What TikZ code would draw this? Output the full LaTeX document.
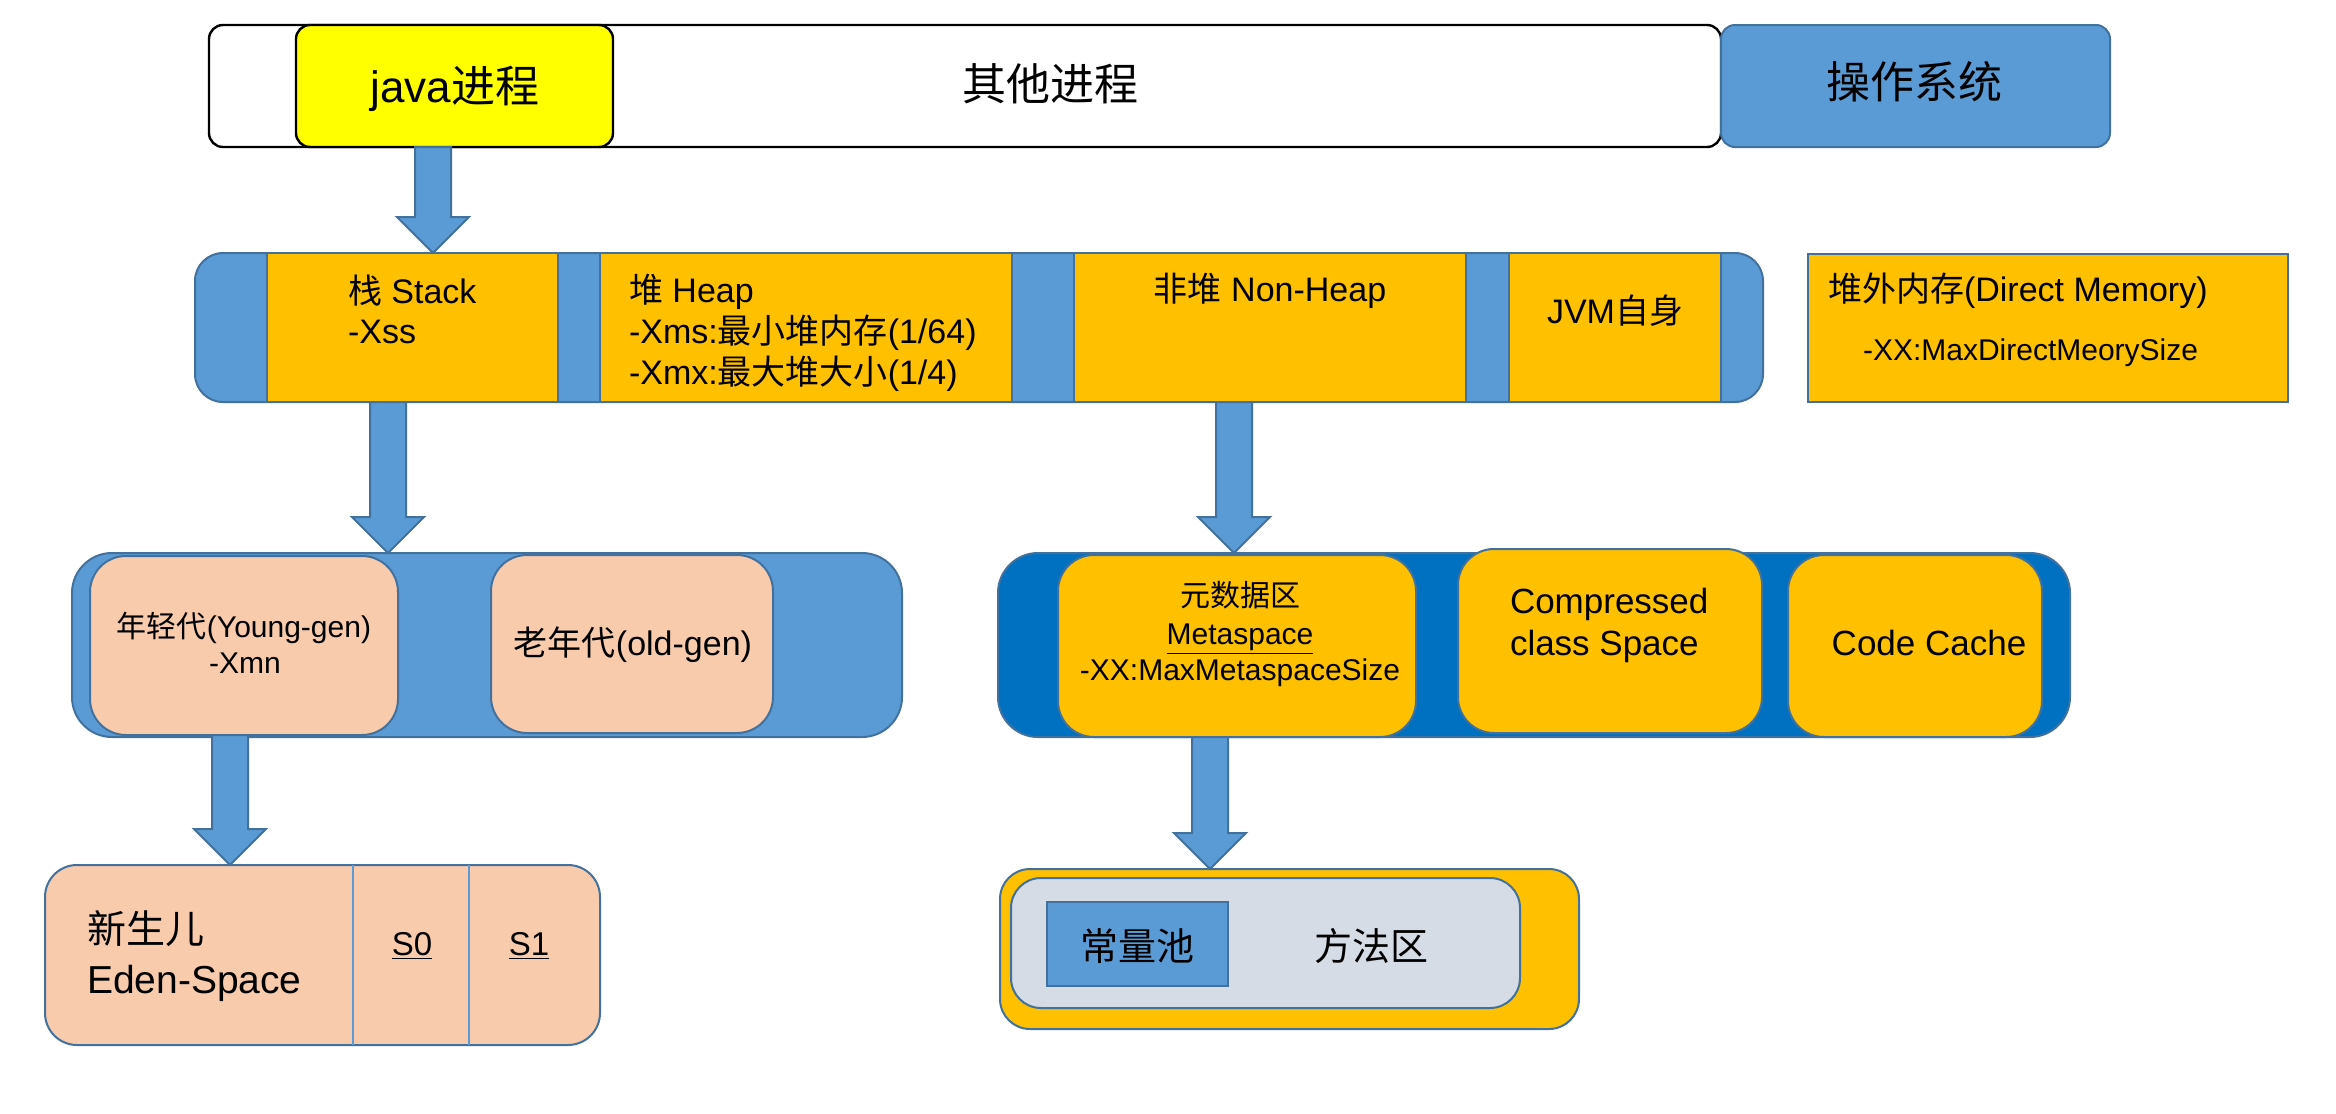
\documentclass[tikz,border=0pt]{standalone}
\usepackage{fontspec}
\setmainfont{Liberation Sans}
\newfontfamily\cjk{Noto Sans CJK SC}
\usetikzlibrary{calc}
\definecolor{bfill}{HTML}{5B9BD5}
\definecolor{bline}{HTML}{41719C}
\definecolor{orng}{HTML}{FFC000}
\definecolor{peach}{HTML}{F8CBAD}
\definecolor{dblue}{HTML}{0070C0}
\definecolor{lgray}{HTML}{D6DCE5}
\definecolor{yel}{HTML}{FFFF00}
\tikzset{
  bx/.style={inner sep=0pt, outer sep=0pt, anchor=north west},
  blackbox/.style={bx, draw=black, line width=1.2pt},
  bluebox/.style={bx, draw=bline, line width=1pt},
  barrow/.style={fill=bfill, draw=bline, line width=1pt},
  txt/.style={inner sep=0pt, outer sep=0pt, text=black},
  fxl/.style={txt, font=\fontsize{22}{26}\selectfont},
  fl/.style={txt, font=\fontsize{17}{20}\selectfont},
  fm/.style={txt, font=\fontsize{15}{18}\selectfont},
  fb/.style={txt, font=\fontsize{19.5}{23}\selectfont},
}
\newcommand\mkbox[6]{\node[#2, minimum width={(#5-#3)*0.5pt}, minimum height={(#6-#4)*0.5pt}] (#1) at (#3,#4) {};}
\newcommand\blockarrow[2]{%
  \draw[barrow] let \p1=(#1), \p2=(#2) in
  (\x1-9pt,\y1) -- (\x1+9pt,\y1) -- (\x1+9pt,\y2+18pt) -- (\x1+18pt,\y2+18pt)
  -- (\x1,\y2) -- (\x1-18pt,\y2+18pt) -- (\x1-9pt,\y2+18pt) -- cycle;}
\begin{document}
\begin{tikzpicture}[x=0.5pt,y=-0.5pt]
\useasboundingbox (0,0) rectangle (2336,1114);
% top row
\mkbox{top}{blackbox, fill=white, rounded corners=7pt}{209}{25}{1721}{147}
\mkbox{java}{blackbox, fill=yel, rounded corners=7pt}{296}{25}{613}{147}
\mkbox{os}{bluebox, fill=bfill, rounded corners=7pt}{1721}{25}{2110}{147}
\node[fxl, anchor=base] (tjava) at (455,102) {java{\cjk 进程}};
\node[fxl, anchor=base] (tother) at (1050,100) {\cjk 其他进程};
\node[fxl, anchor=base] (tos) at (1914,98) {\cjk 操作系统};
% JVM row
\mkbox{jvm}{bluebox, fill=bfill, rounded corners=14pt}{195}{253}{1763}{402}
\mkbox{stack}{bluebox, fill=orng}{267}{253}{558}{402}
\mkbox{heap}{bluebox, fill=orng}{600}{253}{1012}{402}
\mkbox{nonheap}{bluebox, fill=orng}{1074}{253}{1466}{402}
\mkbox{jvmself}{bluebox, fill=orng}{1509}{253}{1721}{402}
\mkbox{direct}{bluebox, fill=orng}{1808}{254}{2288}{402}
\node[fl, anchor=base west] (tstack1) at (348,303) {{\cjk 栈} Stack};
\node[fl, anchor=base west] (tstack2) at (348,343) {-Xss};
\node[fl, anchor=base west] (theap1) at (629,302) {{\cjk 堆} Heap};
\node[fl, anchor=base west] (theap2) at (629,343) {-Xms:{\cjk 最小堆内存}(1/64)};
\node[fl, anchor=base west] (theap3) at (629,384) {-Xmx:{\cjk 最大堆大小}(1/4)};
\node[fl, anchor=base] (tnonheap) at (1270,301) {{\cjk 非堆} Non-Heap};
\node[fl, anchor=base] (tjvmself) at (1615,323) {JVM{\cjk 自身}};
\node[fl, anchor=base west] (tdirect1) at (1828,301) {{\cjk 堆外内存}(Direct Memory)};
\node[fm, anchor=base west] (tdirect2) at (1863,360) {-XX:MaxDirectMeorySize};
% generations
\mkbox{gen}{bluebox, fill=bfill, rounded corners=20pt}{72}{553}{902}{737}
\mkbox{young}{bluebox, fill=peach, rounded corners=18pt}{90}{556}{398}{735}
\mkbox{old}{bluebox, fill=peach, rounded corners=18pt}{491}{555}{773}{733}
\node[fm, anchor=base] (tyoung1) at (244,637) {{\cjk 年轻代}(Young-gen)};
\node[fm, anchor=base] (tyoung2) at (245,673) {-Xmn};
\node[fl, anchor=base] (told) at (633,655) {{\cjk 老年代}(old-gen)};
% non-heap parts
\mkbox{metabar}{bluebox, fill=dblue, rounded corners=20pt}{998}{553}{2070}{737}
\mkbox{meta}{bluebox, fill=orng, rounded corners=18pt}{1058}{555}{1416}{737}
\mkbox{comp}{bluebox, fill=orng, rounded corners=18pt}{1458}{549}{1762}{733}
\mkbox{code}{bluebox, fill=orng, rounded corners=18pt}{1788}{555}{2042}{737}
\node[fm, anchor=base] (tmeta1) at (1240,606) {\cjk 元数据区};
\node[fm, anchor=base] (tmeta2) at (1240,644) {\underline{Metaspace}};
\node[fm, anchor=base] (tmeta3) at (1240,680) {-XX:MaxMetaspaceSize};
\node[fl, anchor=base west, font=\fontsize{17.5}{21}\selectfont] (tcomp1) at (1510,613) {Compressed};
\node[fl, anchor=base west, font=\fontsize{17.5}{21}\selectfont] (tcomp2) at (1510,655) {class Space};
\node[fl, anchor=base, font=\fontsize{17.5}{21}\selectfont] (tcode) at (1929,655) {Code Cache};
% eden
\mkbox{eden}{bluebox, fill=peach, rounded corners=16pt}{45}{865}{600}{1045}
\coordinate (d1) at (353,0);
\coordinate (d2) at (469,0);
\draw[bfill, line width=1pt] (d1 |- eden.north) -- (d1 |- eden.south);
\draw[bfill, line width=1pt] (d2 |- eden.north) -- (d2 |- eden.south);
\node[fb, anchor=base west] (teden1) at (87,943) {\cjk 新生儿};
\node[fb, anchor=base west] (teden2) at (87,993) {Eden-Space};
\node[txt, anchor=base, font=\fontsize{16.5}{20}\selectfont] (ts0) at (412,955) {\underline{S0}};
\node[txt, anchor=base, font=\fontsize{16.5}{20}\selectfont] (ts1) at (529,955) {\underline{S1}};
% method area
\mkbox{mouter}{bluebox, fill=orng, rounded corners=15pt}{1000}{869}{1579}{1029}
\mkbox{minner}{bluebox, fill=lgray, rounded corners=15pt}{1011}{878}{1520}{1008}
\mkbox{pool}{bluebox, fill=bfill}{1047}{902}{1228}{986}
\node[txt, anchor=base, font=\fontsize{19}{23}\selectfont] (tpool) at (1137,960) {\cjk 常量池};
\node[txt, anchor=base, font=\fontsize{19}{23}\selectfont] (tmethod) at (1371,960) {\cjk 方法区};
% arrows
\coordinate (a1s) at (433,147); \coordinate (a1t) at (433,253);
\coordinate (a2s) at (388,402); \coordinate (a2t) at (388,553);
\coordinate (a3s) at (1234,402); \coordinate (a3t) at (1234,553);
\coordinate (a4s) at (230,735); \coordinate (a4t) at (230,865);
\coordinate (a5s) at (1210,737); \coordinate (a5t) at (1210,869);
\blockarrow{a1s}{a1t}
\blockarrow{a2s}{a2t}
\blockarrow{a3s}{a3t}
\blockarrow{a4s}{a4t}
\blockarrow{a5s}{a5t}
\end{tikzpicture}
\end{document}
